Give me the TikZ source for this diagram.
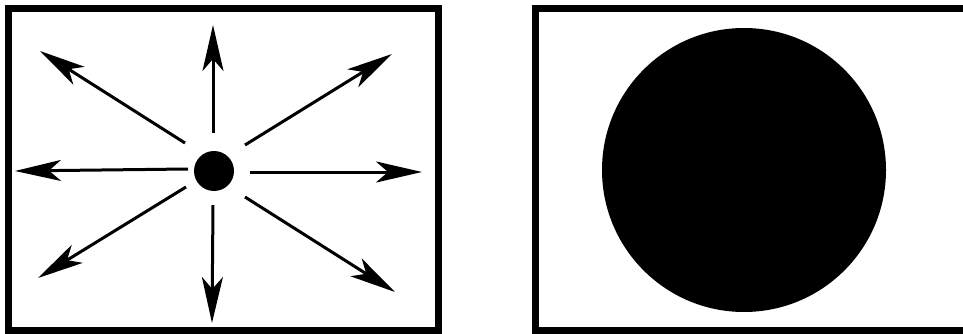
\documentclass[tikz,border=0pt]{standalone}
\usetikzlibrary{arrows.meta}

\begin{document}
\begin{tikzpicture}[x=1pt,y=-1pt,
    frame/.style={draw,line width=7pt},
    ray/.style={-{Stealth[length=46pt,width=21pt,inset=12pt]},line width=3pt},
    blob/.style={circle,fill,inner sep=0pt}]
    \clip (0,0) rectangle (963,334);
    % left panel: small source with outgoing arrows
    \draw[frame] (8.5,8.5) rectangle (438.5,330.5);
    \node[blob,minimum size=40pt] (dot) at (214,171) {};
    \foreach \sx/\sy/\ex/\ey [count=\i] in {213/133/213/25, 245/145/392/54, 250/172/422/172, 245/197/395/292,
        213/205/212/323, 186/187/38/278, 188/169/15/171, 185/143/40/51}{
      \coordinate (s\i) at (\sx,\sy);
      \coordinate (e\i) at (\ex,\ey);
      \draw[ray] (s\i) -- (e\i);
    }
    % right panel: large disc
    \draw[frame] (535.5,8.5) rectangle (975,330.5);
    \node[blob,minimum size=284pt] (disc) at (744,170) {};
\end{tikzpicture}
\end{document}
